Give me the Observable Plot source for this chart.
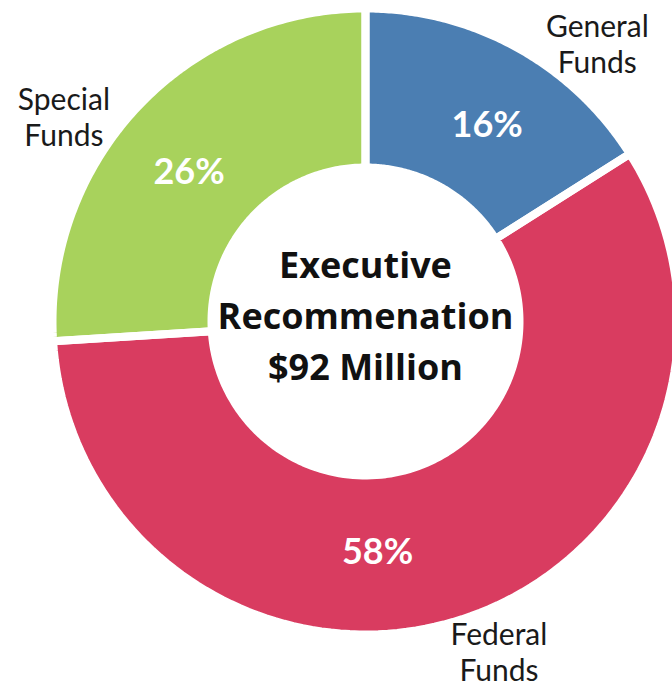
<!DOCTYPE html>
<html>
<head>
<meta charset="utf-8">
<script src="https://cdn.jsdelivr.net/npm/d3@7"></script>
<script src="https://cdn.jsdelivr.net/npm/@observablehq/plot@0.6"></script>
<style>
  html, body { margin: 0; padding: 0; background: #fff; }
  #chart svg { display: block; }
</style>
</head>
<body>
<div id="chart"></div>
<script>
// ---- Data ----
const categories = ["General Funds", "Federal Funds", "Special Funds"];
const shares = [16, 58, 26];
const colors = ["#4b7eb2", "#d93c60", "#a8d25c"];
const percentLabels = ["16%", "58%", "26%"];
const outerLabels = ["General\nFunds", "Federal\nFunds", "Special\nFunds"];
const centerTitle = ["Executive", "Recommenation", "$92 Million"];

// ---- Layout constants ----
const W = 672, H = 687;
const cx = 365, cy = 321, Rpx = 313;   // pixel geometry of the ring
const inner = 0.492;                   // inner radius as fraction of outer
const pctRadius = 0.738, pctShift = [3, 15, -3];
const lblRadius = [1.157, 1.138, 1.165], lblShift = [11, -4, -9];

const pie = d3.pie().sort(null).value(d => d.share);
const rows = categories.map((c, i) => ({category: c, share: shares[i], color: colors[i], pct: percentLabels[i], label: outerLabels[i]}));
const arcs = pie(rows);

const pt = (a, r) => [r * Math.sin(a), r * Math.cos(a)];
const poly = [];
arcs.forEach(a => {
  const n = 120;
  const pts = [];
  for (let k = 0; k <= n; k++) pts.push(pt(a.startAngle + (a.endAngle - a.startAngle) * k / n, 1));
  for (let k = n; k >= 0; k--) pts.push(pt(a.startAngle + (a.endAngle - a.startAngle) * k / n, inner));
  pts.push(pts[0]);
  pts.forEach(([x, y]) => poly.push({category: a.data.category, x, y}));
});

const rad = d => d * Math.PI / 180;
const pctPts = arcs.map((a, i) => {
  const m = (a.startAngle + a.endAngle) / 2 + rad(pctShift[i]);
  const [x, y] = pt(m, pctRadius);
  return {x, y, text: a.data.pct};
});
const lblPts = arcs.map((a, i) => {
  const m = (a.startAngle + a.endAngle) / 2 + rad(lblShift[i]);
  const [x, y] = pt(m, lblRadius[i]);
  return {x, y, text: a.data.label};
});

const chart = Plot.plot({
  width: W, height: H,
  margin: 0,
  style: {background: "#fff"},
  x: {domain: [-1, 1], range: [cx - Rpx, cx + Rpx], axis: null},
  y: {domain: [-1, 1], range: [cy + Rpx, cy - Rpx], axis: null},
  color: {domain: categories, range: colors},
  marks: [
    Plot.line(poly, {x: "x", y: "y", z: "category", fill: "category", stroke: "none", curve: "linear"}),
    Plot.line(poly, {x: "x", y: "y", z: "category", fill: "none", stroke: "#fff", strokeWidth: 8, strokeLinejoin: "miter", curve: "linear"}),
    Plot.text(pctPts, {x: "x", y: "y", text: "text", fill: "#fff", fontSize: 36, fontWeight: "bold", fontFamily: "Lato", lineAnchor: "middle"}),
    Plot.text(lblPts, {x: "x", y: "y", text: "text", fill: "#1a1a1a", fontSize: 30, fontFamily: "Lato", lineHeight: 1.2, lineAnchor: "middle"}),
    Plot.text([{x: 0, y: 0, text: centerTitle.join("\n")}], {x: "x", y: "y", text: "text", dy: -9, fill: "#111", fontSize: 36, fontWeight: "bold", fontFamily: "Open Sans", lineHeight: 1.417, lineAnchor: "middle"})
  ]
});
document.getElementById("chart").appendChild(chart);
</script>
</body>
</html>
